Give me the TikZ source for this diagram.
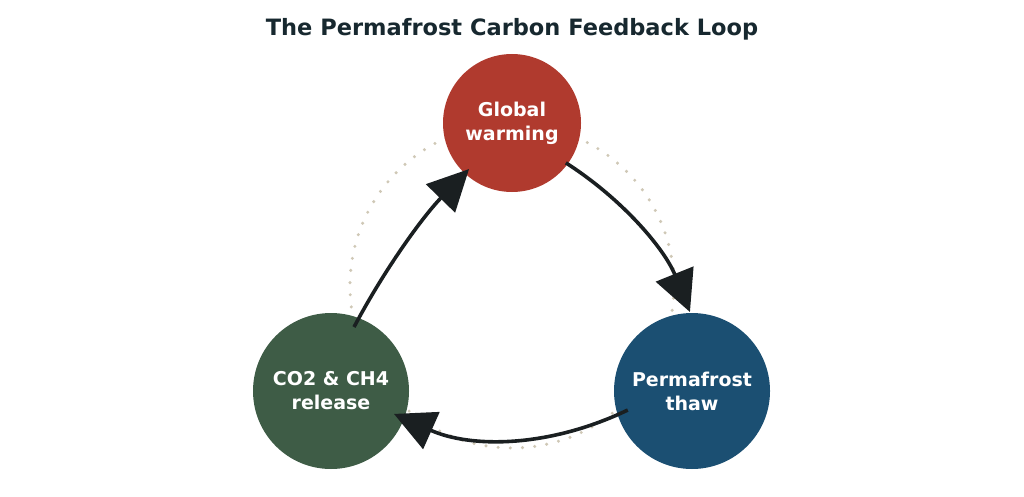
\documentclass[tikz,border=0pt]{standalone}
\usepackage{fontspec}
\setmainfont{DejaVu Sans}
\usetikzlibrary{arrows.meta,calc}
\definecolor{gwred}{HTML}{B03A2E}
\definecolor{ptblue}{HTML}{1B4F72}
\definecolor{cogreen}{HTML}{3E5C46}
\definecolor{arrowdark}{HTML}{1A1F21}
\definecolor{titledark}{HTML}{17282F}
\definecolor{dotbeige}{HTML}{CFC8B6}
\begin{document}
\begin{tikzpicture}[x=1pt,y=-1pt,
  loopnode/.style={circle,draw=none,inner sep=0pt,text=white,align=center,
    font=\fontsize{19}{24}\selectfont\bfseries},
  looparrow/.style={draw=arrowdark,line width=3.6pt,
    -{Triangle[length=41pt,width=40pt]}},
  guide/.style={draw=dotbeige,line width=3.4pt,line cap=round,dash pattern=on 0pt off 12.2pt}]
\useasboundingbox (0,0) rectangle (1024,497);
\node[font=\fontsize{22.5}{26}\selectfont\bfseries,text=titledark,anchor=base] (title) at (512,36) {The Permafrost Carbon Feedback Loop};
\coordinate (loopc) at (512,286);
\draw[guide] (loopc) circle[radius=162];
\node[loopnode,fill=gwred,minimum size=138pt] (gw) at (512,123) {Global\\warming};
\node[loopnode,fill=ptblue,minimum size=156pt] (pt) at (692,391) {Permafrost\\thaw};
\node[loopnode,fill=cogreen,minimum size=156pt] (co) at (331,391) {CO2 \& CH4\\release};
% arrow end points
\coordinate (s1) at ([shift={(36.5:67)}]gw.center);
\coordinate (e1) at ([shift={(-91.5:79)}]pt.center);
\coordinate (c1) at (652,218);
\coordinate (s2) at ([shift={(163.5:67)}]pt.center);
\coordinate (e2) at ([shift={(20:67)}]co.center);
\coordinate (c2) at (511,466);
\coordinate (s3) at ([shift={(-70.2:68)}]co.center);
\coordinate (e3) at ([shift={(133:63)}]gw.center);
\coordinate (c3) at (400,240);
\draw[looparrow] (s1) .. controls ($(s1)!0.6667!(c1)$) and ($(e1)!0.6667!(c1)$) .. (e1);
\draw[looparrow] (s2) .. controls ($(s2)!0.6667!(c2)$) and ($(e2)!0.6667!(c2)$) .. (e2);
\draw[looparrow] (s3) .. controls ($(s3)!0.6667!(c3)$) and ($(e3)!0.6667!(c3)$) .. (e3);
\end{tikzpicture}
\end{document}
